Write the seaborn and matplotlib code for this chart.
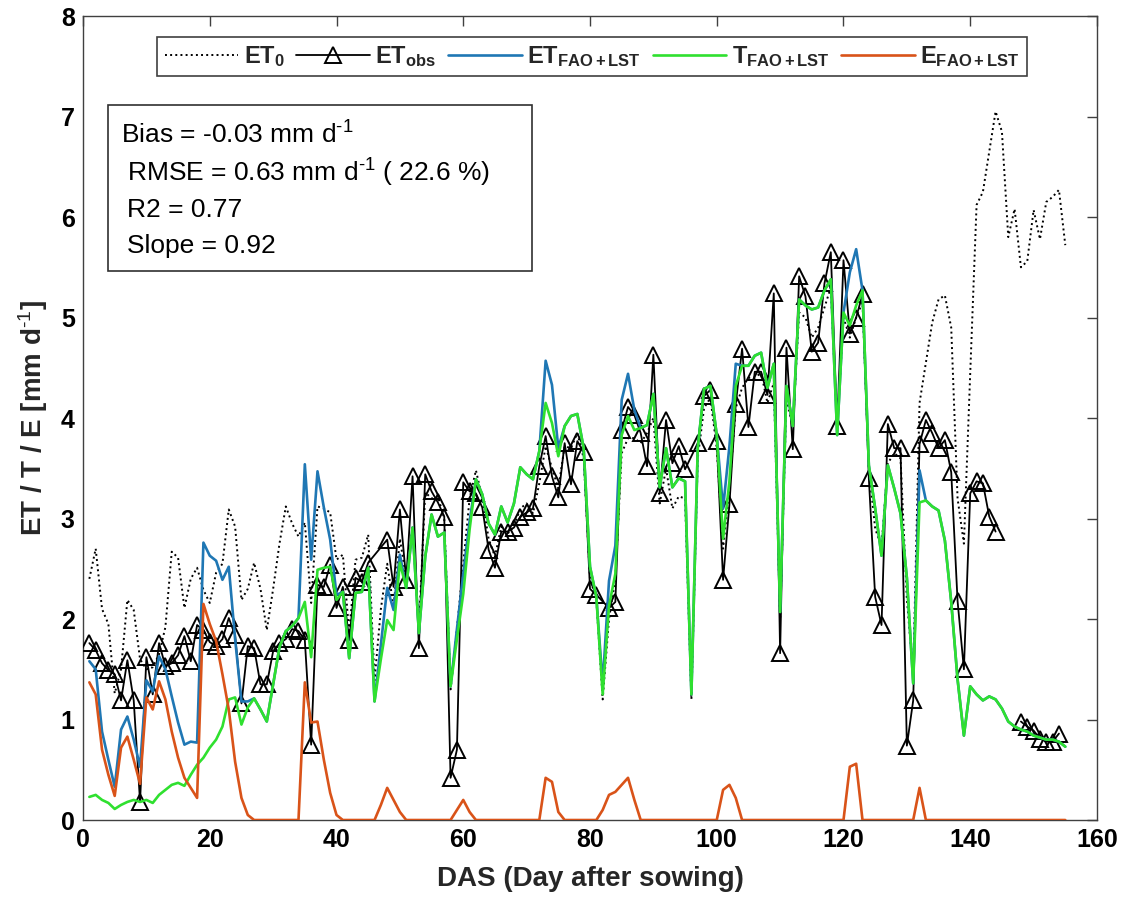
import matplotlib
matplotlib.use("Agg")
import matplotlib.pyplot as plt
import seaborn as sns
from matplotlib.lines import Line2D
from matplotlib.patches import Rectangle

# Days after sowing for the modelled / reference series
das = list(range(1, 156))

# Reference evapotranspiration ET0 [mm/d]
et0 = [2.40, 2.70, 2.10, 1.95, 1.26, 1.50, 2.19, 2.09, 1.60, 1.50,
       1.52, 1.65, 1.92, 2.67, 2.61, 2.11, 2.40, 2.51, 2.29, 2.16,
       2.46, 2.55, 3.09, 2.92, 2.19, 2.30, 2.56, 2.30, 1.89, 2.30,
       2.75, 3.12, 2.95, 2.82, 2.96, 2.16, 3.12, 3.10, 3.06, 2.59,
       2.64, 1.86, 2.59, 2.61, 2.84, 1.39, 2.10, 2.55, 2.12, 2.80,
       2.40, 2.92, 1.90, 3.26, 3.20, 3.22, 3.00, 1.30, 1.90, 2.55,
       3.20, 3.48, 3.20, 2.80, 2.62, 2.92, 2.85, 2.92, 3.10, 3.15,
       3.05, 3.35, 3.72, 3.50, 3.30, 3.72, 3.70, 3.85, 3.60, 2.40,
       2.20, 1.20, 2.00, 2.40, 3.65, 3.80, 3.80, 3.75, 3.85, 4.00,
       3.15, 3.50, 3.10, 3.22, 3.20, 1.20, 3.60, 4.10, 4.20, 3.70,
       2.70, 3.30, 4.10, 4.30, 4.40, 4.40, 4.45, 4.15, 4.35, 2.00,
       4.20, 3.90, 5.05, 5.00, 4.80, 4.90, 5.10, 5.30, 3.90, 5.00,
       4.80, 5.00, 5.15, 3.50, 2.90, 2.72, 3.55, 3.65, 3.60, 2.20,
       1.45, 4.15, 4.55, 4.95, 5.18, 5.22, 4.90, 3.20, 2.75, 4.45,
       6.12, 6.25, 6.65, 7.05, 6.85, 5.80, 6.08, 5.50, 5.56, 6.07,
       5.78, 6.15, 6.20, 6.27, 5.72]

# Transpiration T (FAO + LST)
t_fao = [0.23, 0.25, 0.20, 0.17, 0.11, 0.15, 0.18, 0.20, 0.18, 0.20,
         0.17, 0.25, 0.30, 0.35, 0.37, 0.34, 0.45, 0.55, 0.62, 0.72,
         0.80, 0.93, 1.20, 1.22, 0.95, 1.12, 1.21, 1.10, 0.98, 1.35,
         1.72, 1.88, 1.93, 2.01, 2.17, 1.62, 2.49, 2.51, 2.52, 2.19,
         2.27, 1.61, 2.26, 2.27, 2.51, 1.18, 1.60, 1.99, 1.89, 2.56,
         2.31, 2.91, 1.86, 2.62, 3.04, 2.82, 2.86, 1.33, 1.80, 2.25,
         2.89, 3.39, 3.24, 2.95, 2.84, 3.12, 2.96, 3.15, 3.51, 3.44,
         3.39, 3.67, 4.15, 3.95, 3.62, 3.92, 4.02, 4.04, 3.70, 2.52,
         2.22, 1.25, 2.13, 2.45, 3.83, 4.02, 3.88, 3.90, 3.93, 4.24,
         3.31, 3.70, 3.31, 3.40, 3.37, 1.25, 3.70, 4.29, 4.32, 3.83,
         2.80, 3.37, 4.32, 4.52, 4.52, 4.62, 4.65, 4.30, 4.54, 2.07,
         4.32, 3.92, 5.18, 5.12, 5.08, 5.10, 5.27, 5.38, 3.83, 5.05,
         4.92, 5.12, 5.27, 3.53, 3.10, 2.63, 3.53, 3.30, 3.05, 2.41,
         1.36, 3.16, 3.18, 3.12, 3.08, 2.78, 2.17, 1.40, 0.84, 1.33,
         1.25, 1.19, 1.23, 1.20, 1.11, 0.98, 0.93, 0.90, 0.88, 0.84,
         0.82, 0.80, 0.80, 0.78, 0.73]

# Soil evaporation E (FAO + LST)
e_fao = [1.37, 1.25, 0.70, 0.45, 0.24, 0.72, 0.83, 0.60, 0.36, 1.22,
         1.10, 1.38, 1.20, 0.88, 0.62, 0.42, 0.32, 0.22, 2.15, 1.95,
         1.78, 1.45, 1.10, 0.58, 0.22, 0.05, 0.00, 0.00, 0.00, 0.00,
         0.00, 0.00, 0.00, 0.00, 1.37, 0.97, 0.98, 0.60, 0.27, 0.05,
         0.00, 0.00, 0.00, 0.00, 0.00, 0.00, 0.15, 0.32, 0.20, 0.08,
         0.00, 0.00, 0.00, 0.00, 0.00, 0.00, 0.00, 0.00, 0.10, 0.20,
         0.08, 0.00, 0.00, 0.00, 0.00, 0.00, 0.00, 0.00, 0.00, 0.00,
         0.00, 0.00, 0.42, 0.38, 0.08, 0.00, 0.00, 0.00, 0.00, 0.00,
         0.00, 0.10, 0.25, 0.28, 0.35, 0.42, 0.20, 0.00, 0.00, 0.00,
         0.00, 0.00, 0.00, 0.00, 0.00, 0.00, 0.00, 0.00, 0.00, 0.00,
         0.30, 0.35, 0.22, 0.00, 0.00, 0.00, 0.00, 0.00, 0.00, 0.00,
         0.00, 0.00, 0.00, 0.00, 0.00, 0.00, 0.00, 0.00, 0.00, 0.00,
         0.53, 0.56, 0.00, 0.00, 0.00, 0.00, 0.00, 0.00, 0.00, 0.00,
         0.00, 0.32, 0.00, 0.00, 0.00, 0.00, 0.00, 0.00, 0.00, 0.00,
         0.00, 0.00, 0.00, 0.00, 0.00, 0.00, 0.00, 0.00, 0.00, 0.00,
         0.00, 0.00, 0.00, 0.00, 0.00]

# Evapotranspiration ET (FAO + LST)
et_fao = [1.58, 1.50, 0.88, 0.60, 0.33, 0.90, 1.03, 0.80, 0.53, 1.39,
          1.28, 1.63, 1.50, 1.23, 0.97, 0.75, 0.78, 0.77, 2.76, 2.63,
          2.58, 2.39, 2.52, 1.80, 1.18, 1.18, 1.21, 1.10, 0.98, 1.35,
          1.72, 1.88, 1.93, 2.01, 3.54, 2.59, 3.47, 3.11, 2.79, 2.24,
          2.27, 1.61, 2.26, 2.27, 2.51, 1.18, 1.75, 2.31, 2.09, 2.64,
          2.31, 2.91, 1.86, 2.62, 3.04, 2.82, 2.86, 1.33, 1.90, 2.45,
          2.97, 3.39, 3.24, 2.95, 2.84, 3.12, 2.96, 3.15, 3.51, 3.44,
          3.39, 3.67, 4.57, 4.33, 3.70, 3.92, 4.02, 4.04, 3.70, 2.52,
          2.22, 1.35, 2.38, 2.73, 4.18, 4.44, 4.08, 3.90, 3.93, 4.24,
          3.31, 3.70, 3.31, 3.40, 3.37, 1.25, 3.70, 4.29, 4.32, 3.83,
          3.10, 3.72, 4.54, 4.52, 4.52, 4.62, 4.65, 4.30, 4.54, 2.07,
          4.32, 3.92, 5.18, 5.12, 5.08, 5.10, 5.27, 5.38, 3.83, 5.05,
          5.45, 5.68, 5.27, 3.53, 3.10, 2.63, 3.53, 3.30, 3.05, 2.41,
          1.36, 3.48, 3.18, 3.12, 3.08, 2.78, 2.17, 1.40, 0.84, 1.33,
          1.25, 1.19, 1.23, 1.20, 1.11, 0.98, 0.93, 0.90, 0.88, 0.84,
          0.82, 0.80, 0.80, 0.78, 0.73]

# Observed ET: main season record and the short late record
obs_das_main = (list(range(1, 46)) + list(range(48, 82)) + list(range(83, 96))
                + list(range(97, 145)))
et_obs_main = [1.76, 1.69, 1.56, 1.49, 1.45, 1.19, 1.59, 1.19, 0.18, 1.62,
               1.25, 1.76, 1.53, 1.56, 1.64, 1.83, 1.58, 1.94, 1.89, 1.77,
               1.73, 1.80, 2.01, 1.84, 1.16, 1.73, 1.71, 1.35, 1.35, 1.68,
               1.76, 1.80, 1.90, 1.88, 1.79, 0.75, 2.34, 2.32, 2.54, 2.11,
               2.32, 1.79, 2.41, 2.37, 2.56,
               2.79, 2.32, 3.09, 2.39, 3.42, 1.71, 3.44, 3.27, 3.16, 3.02,
               0.42, 0.70, 3.36, 3.27, 3.25, 3.11, 2.69, 2.51, 2.87, 2.87,
               2.91, 3.02, 3.06, 3.10, 3.52, 3.82, 3.42, 3.21, 3.75, 3.34,
               3.77, 3.66, 2.30, 2.24,
               2.11, 2.17, 3.88, 4.11, 4.03, 3.85, 3.52, 4.63, 3.25, 3.98,
               3.55, 3.72, 3.49,
               3.75, 4.22, 4.28, 3.77, 2.39, 3.14, 4.14, 4.69, 3.91, 4.46,
               4.46, 4.23, 5.24, 1.66, 4.70, 3.69, 5.41, 5.21, 4.66, 4.75,
               5.34, 5.65, 3.92, 5.57, 4.84, 5.00, 5.23, 3.40, 2.22, 1.94,
               3.94, 3.70, 3.70, 0.74, 1.19, 3.74, 3.98, 3.85, 3.70, 3.78,
               3.46, 2.18, 1.50, 3.25, 3.37, 3.35, 3.02, 2.87]
obs_das_late = list(range(148, 155))
et_obs_late = [0.98, 0.93, 0.89, 0.81, 0.78, 0.78, 0.86]

stats_lines = [r"Bias = -0.03 mm d$^{\text{-1}}$",
               r"RMSE = 0.63 mm d$^{\text{-1}}$ ( 22.6 %)",
               "R2 = 0.77",
               "Slope = 0.92"]

x_ticks = list(range(0, 161, 20))
y_ticks = list(range(0, 9))

C_ET0 = "black"
C_OBS = "black"
C_ET = "#1f77b4"
C_T = "#2fe02f"
C_E = "#d95319"

sns.set_theme(style="white")
plt.rcParams["font.family"] = ["Liberation Sans", "DejaVu Sans"]
plt.rcParams["mathtext.fontset"] = "custom"
plt.rcParams["mathtext.rm"] = "Liberation Sans"
plt.rcParams["mathtext.it"] = "Liberation Sans:italic"
plt.rcParams["mathtext.bf"] = "Liberation Sans:bold"

fig = plt.figure(figsize=(11.28, 9.05), dpi=100)
ax = fig.add_axes([0.0736, 0.0939, 0.8989, 0.8884])

obs_style = dict(color=C_OBS, linewidth=1.3, marker="^", markersize=11,
                 markerfacecolor="none", markeredgecolor="black",
                 markeredgewidth=1.4, estimator=None, sort=False, zorder=3)

sns.lineplot(x=das, y=et0, ax=ax, color=C_ET0, linestyle=":", linewidth=1.4,
             estimator=None, sort=False, zorder=2)
sns.lineplot(x=obs_das_main, y=et_obs_main, ax=ax, **obs_style)
sns.lineplot(x=obs_das_late, y=et_obs_late, ax=ax, **obs_style)
sns.lineplot(x=das, y=et_fao, ax=ax, color=C_ET, linewidth=1.9,
             estimator=None, sort=False, zorder=4)
sns.lineplot(x=das, y=t_fao, ax=ax, color=C_T, linewidth=1.9,
             estimator=None, sort=False, zorder=5)
sns.lineplot(x=das, y=e_fao, ax=ax, color=C_E, linewidth=1.9,
             estimator=None, sort=False, zorder=6)

ax.set_xlim(0, 160)
ax.set_ylim(0, 8)
ax.set_xticks(x_ticks)
ax.set_yticks(y_ticks)
ax.tick_params(direction="in", length=7, width=1, top=True, right=True,
               labelsize=18, color="#404040", labelcolor="black", pad=6)
for lbl in ax.get_xticklabels() + ax.get_yticklabels():
    lbl.set_fontweight("bold")
for sp in ax.spines.values():
    sp.set_color("#404040")
    sp.set_linewidth(1.0)

ax.set_xlabel("DAS (Day after sowing)", fontsize=20, fontweight="bold",
              labelpad=10)
ax.set_ylabel(r"ET / T / E [mm d$^{\mathbf{\text{-1}}}$]", fontsize=20,
              fontweight="bold", labelpad=8)

handles = [
    Line2D([], [], color=C_ET0, linestyle=":", linewidth=1.4),
    Line2D([], [], color=C_OBS, linewidth=1.3, marker="^", markersize=11,
           markerfacecolor="none", markeredgecolor="black",
           markeredgewidth=1.4),
    Line2D([], [], color=C_ET, linewidth=1.9),
    Line2D([], [], color=C_T, linewidth=1.9),
    Line2D([], [], color=C_E, linewidth=1.9),
]
labels = [r"$\mathbf{ET_{0}}$", r"$\mathbf{ET_{obs}}$",
          r"$\mathbf{ET_{FAO+LST}}$", r"$\mathbf{T_{FAO+LST}}$",
          r"$\mathbf{E_{FAO+LST}}$"]
leg = ax.legend(handles, labels, loc="upper center",
                bbox_to_anchor=(0.502, 0.974), ncol=5, fontsize=17,
                frameon=True, fancybox=False, framealpha=1,
                edgecolor="#404040", handlelength=3.1, handletextpad=0.25,
                columnspacing=0.5, borderpad=0.3, borderaxespad=0)
leg.get_frame().set_linewidth(1.2)
leg.set_zorder(10)

box = Rectangle((0.0247, 0.683), 0.418, 0.206, transform=ax.transAxes,
                facecolor="white", edgecolor="#303030", linewidth=1.2,
                zorder=9)
ax.add_patch(box)
text_y = [0.852, 0.805, 0.759, 0.714]
text_x = [0.037, 0.043, 0.043, 0.043]
for s, tx, ty in zip(stats_lines, text_x, text_y):
    ax.text(tx, ty, s, transform=ax.transAxes, fontsize=19, va="center",
            ha="left", zorder=11, color="black")

fig.savefig("out.png", dpi=100)
